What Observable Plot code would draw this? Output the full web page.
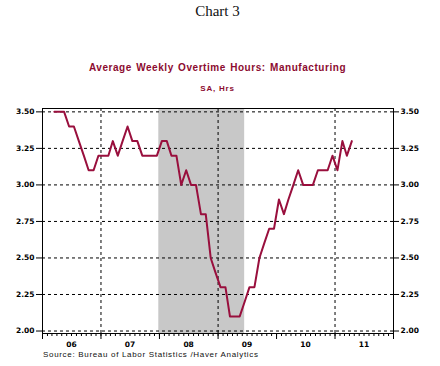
<!DOCTYPE html>
<html><head><meta charset="utf-8">
<script src="https://cdn.jsdelivr.net/npm/d3@7"></script>
<script src="https://cdn.jsdelivr.net/npm/@observablehq/plot@0.6"></script>
<style>
body{margin:0;background:#fff;}
#wrap{position:relative;width:440px;height:366px;overflow:hidden;background:#fff;}
.t{position:absolute;left:0;width:435px;text-align:center;white-space:nowrap;}
#title{top:1px;font:15px "Liberation Serif",serif;color:#111;line-height:20px;}
#sub{top:62px;font:bold 10px "Liberation Sans",Arial,sans-serif;letter-spacing:0.55px;word-spacing:1px;color:#8c0b30;line-height:12px;}
#sub2{top:83px;font:bold 8px "Liberation Sans",Arial,sans-serif;letter-spacing:0.8px;color:#8c0b30;line-height:12px;}
#chart{position:absolute;top:100px;left:0;}
#src{position:absolute;top:349px;left:43px;font:8px "Liberation Sans",Arial,sans-serif;letter-spacing:0.68px;line-height:11px;color:#111;white-space:nowrap;}
</style></head>
<body>
<div id="wrap">
  <div class="t" id="title">Chart 3</div>
  <div class="t" id="sub">Average Weekly Overtime Hours: Manufacturing</div>
  <div class="t" id="sub2">SA, Hrs</div>
  <div id="chart"></div>
  <div id="src">Source:  Bureau of Labor Statistics /Haver Analytics</div>
</div>
<script>
// Monthly observations, Mar 2006 - Apr 2011
const months = [
  "2006-03","2006-04","2006-05","2006-06","2006-07","2006-08","2006-09","2006-10","2006-11","2006-12",
  "2007-01","2007-02","2007-03","2007-04","2007-05","2007-06","2007-07","2007-08","2007-09","2007-10","2007-11","2007-12",
  "2008-01","2008-02","2008-03","2008-04","2008-05","2008-06","2008-07","2008-08","2008-09","2008-10","2008-11","2008-12",
  "2009-01","2009-02","2009-03","2009-04","2009-05","2009-06","2009-07","2009-08","2009-09","2009-10","2009-11","2009-12",
  "2010-01","2010-02","2010-03","2010-04","2010-05","2010-06","2010-07","2010-08","2010-09","2010-10","2010-11","2010-12",
  "2011-01","2011-02","2011-03","2011-04"
];
const overtime = [
  3.5,3.5,3.5,3.4,3.4,3.3,3.2,3.1,3.1,3.2,
  3.2,3.2,3.3,3.2,3.3,3.4,3.3,3.3,3.2,3.2,3.2,3.2,
  3.3,3.3,3.2,3.2,3.0,3.1,3.0,3.0,2.8,2.8,2.5,2.4,
  2.3,2.3,2.1,2.1,2.1,2.2,2.3,2.3,2.5,2.6,2.7,2.7,
  2.9,2.8,2.9,3.0,3.1,3.0,3.0,3.0,3.1,3.1,3.1,3.2,
  3.1,3.3,3.2,3.3
];
const yTicks = [2.00,2.25,2.50,2.75,3.00,3.25,3.50];
const yearLabels = ["2006","2007","2008","2009","2010","2011"];
const gridYears = ["2007","2009","2011"];
const recession = [{start:"2007-12-28", end:"2009-06-16"}];

const parseM = d3.utcParse("%Y-%m");
const parseD = d3.utcParse("%Y-%m-%d");
const parseY = d3.utcParse("%Y");
const midMonth = m => d3.utcDay.offset(parseM(m), 15);
const data = months.map((m,i) => ({date: midMonth(m), value: overtime[i]}));

const x0 = parseY("2006"), x1 = parseY("2012");
const monthTicks = d3.utcMonth.range(x0, x1);
const yearTicks = d3.utcYear.range(x0, d3.utcDay.offset(x1, 1));
const yearMids = yearLabels.map(y => d3.utcMonth.offset(parseY(y), 6));
const recs = recession.map(r => ({x1: parseD(r.start), x2: parseD(r.end)}));

const chart = Plot.plot({
  width: 440, height: 250,
  marginLeft: 42, marginRight: 47, marginTop: 8, marginBottom: 17,
  style: {fontFamily: "DejaVu Sans, sans-serif", fontSize: "7.5px", fontWeight: "bold", color: "black", background: "transparent"},
  x: {type: "utc", domain: [x0, x1], label: null},
  y: {domain: [1.983, 3.523], label: null},
  marks: [
    Plot.rect(recs, {x1: "x1", x2: "x2", fill: "#c8c8c8"}),
    Plot.gridY(yTicks, {stroke: "black", strokeOpacity: 1, strokeDasharray: "3,3"}),
    Plot.gridX(gridYears.map(parseY), {stroke: "black", strokeOpacity: 1, strokeDasharray: "3,3"}),
    Plot.line(data, {x: "date", y: "value", stroke: "#990f3d", strokeWidth: 2}),
    Plot.frame({stroke: "black"}),
    Plot.axisY(yTicks, {anchor: "left", tickSize: 6, tickPadding: 2, tickFormat: d3.format(".2f"), label: null}),
    Plot.axisY(yTicks, {anchor: "right", tickSize: 5, tickPadding: 2, tickFormat: d3.format(".2f"), label: null}),
    Plot.axisX(monthTicks, {anchor: "bottom", tickSize: 3, tickFormat: () => "", label: null}),
    Plot.axisX(yearTicks, {anchor: "bottom", tickSize: 6, tickFormat: () => "", label: null}),
    Plot.axisX(yearMids, {anchor: "bottom", tickSize: 0, tickPadding: 8, tickFormat: d3.utcFormat("%y"), label: null})
  ]
});
document.getElementById("chart").appendChild(chart);
</script>
</body></html>
